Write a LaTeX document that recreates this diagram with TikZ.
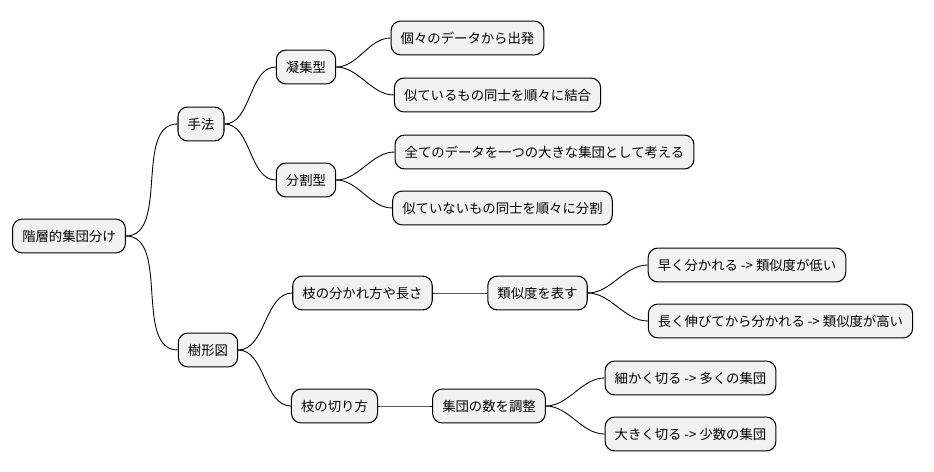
\documentclass[tikz,border=0pt]{standalone}
\usepackage{fontspec}
\setmainfont{Noto Sans CJK JP}
\usetikzlibrary{calc}
\tikzset{>=stealth,
  box/.style={draw=black, fill=black!5!white, rounded corners=5.5pt, line width=0.6pt,
    font=\fontsize{7.6pt}{9pt}\selectfont, minimum height=19.3pt, inner xsep=5.5pt, anchor=center},
  branch/.style={draw, line width=0.5pt, out=0, in=180, looseness=0.9}}

\begin{document}
\begin{tikzpicture}[x=0.02cm, y=-0.02cm]
          \useasboundingbox (0,0) rectangle (934,471);
          % root and first level
          \node[box] (root) at (69,236) {階層的集団分け};
          \node[box] (method) at (201,124) {手法};
          \node[box] (tree) at (208,350) {樹形図};
          % methods
          \node[box] (agg) at (306,67) {凝集型};
          \node[box] (div) at (306,180) {分割型};
          \node[box] (agg1) at (467.5,38) {個々のデータから出発};
          \node[box] (agg2) at (497.5,95) {似ているもの同士を順々に結合};
          \node[box] (div1) at (544.5,152) {全てのデータを一つの大きな集団として考える};
          \node[box] (div2) at (502.5,208) {似ていないもの同士を順々に分割};
          % dendrogram
          \node[box] (shape) at (362.5,293) {枝の分かれ方や長さ};
          \node[box] (sim) at (537.5,293) {類似度を表す};
          \node[box] (sim1) at (747,265) {早く分かれる -> 類似度が低い};
          \node[box] (sim2) at (780.5,321) {長く伸びてから分かれる -> 類似度が高い};
          \node[box] (cut) at (334.5,406) {枝の切り方};
          \node[box] (num) at (489,406) {集団の数を調整};
          \node[box] (num1) at (690.5,378) {細かく切る -> 多くの集団};
          \node[box] (num2) at (690.5,434) {大きく切る -> 少数の集団};
          \begin{scope}
            \foreach \a/\b in {root/method, root/tree, method/agg, method/div,
                agg/agg1, agg/agg2, div/div1, div/div2, tree/shape, tree/cut,
                shape/sim, sim/sim1, sim/sim2, cut/num, num/num1, num/num2}
              \draw[branch] (\a.east) to (\b.west);
          \end{scope}
        \end{tikzpicture}
\end{document}
